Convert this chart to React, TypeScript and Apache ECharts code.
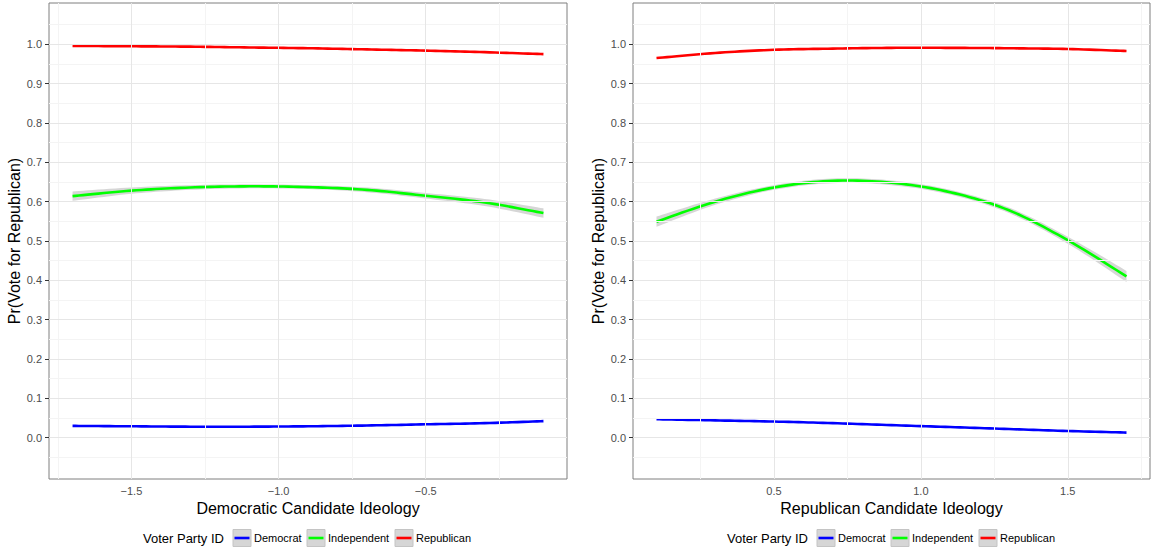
import React, { useEffect, useRef } from "react";
import * as echarts from "echarts";

// ---------- data ----------
const leftX = [-1.7, -1.5, -1.3, -1.1, -0.9, -0.7, -0.5, -0.3, -0.1];
const leftDem = [0.03, 0.029, 0.028, 0.028, 0.029, 0.031, 0.034, 0.037, 0.042];
const leftInd = [0.614, 0.628, 0.636, 0.639, 0.637, 0.63, 0.615, 0.598, 0.571];
const leftIndSe = [0.012, 0.008, 0.006, 0.005, 0.005, 0.006, 0.007, 0.009, 0.012];
const leftRep = [0.996, 0.995, 0.994, 0.992, 0.99, 0.987, 0.984, 0.98, 0.975];

const rightX = [0.1, 0.3, 0.5, 0.7, 0.9, 1.1, 1.3, 1.5, 1.7];
const rightDem = [0.047, 0.044, 0.041, 0.037, 0.032, 0.027, 0.022, 0.017, 0.013];
const rightInd = [0.549, 0.6, 0.636, 0.653, 0.648, 0.624, 0.578, 0.502, 0.41];
const rightIndSe = [0.013, 0.008, 0.006, 0.006, 0.006, 0.006, 0.007, 0.009, 0.014];
const rightRep = [0.965, 0.978, 0.986, 0.989, 0.991, 0.991, 0.99, 0.988, 0.983];

const yTicks = [0, 0.1, 0.2, 0.3, 0.4, 0.5, 0.6, 0.7, 0.8, 0.9, 1.0];
const yMinor = [-0.05, 0.05, 0.15, 0.25, 0.35, 0.45, 0.55, 0.65, 0.75, 0.85, 0.95, 1.05];
const leftXTicks = [-1.5, -1.0, -0.5];
const leftXMinor = [-1.75, -1.25, -0.75, -0.25];
const rightXTicks = [0.5, 1.0, 1.5];
const rightXMinor = [0.25, 0.75, 1.25, 1.75];

const groups = ["Democrat", "Independent", "Republican"];
const groupColors = ["#0000ff", "#00ff00", "#ff0000"];
const legendTitle = "Voter Party ID";
const yTitle = "Pr(Vote for Republican)";
const xTitles = ["Democratic Candidate Ideology", "Republican Candidate Ideology"];

const FONT = "'Liberation Sans', Arial, Helvetica, sans-serif";

function fmt(v: number) {
  return v.toFixed(1).replace("-", "\u2212");
}

// Catmull-Rom densification of pixel points (drawing only)
function spline(pts: number[][], steps = 12) {
  const out: number[][] = [];
  const n = pts.length;
  for (let i = 0; i < n - 1; i++) {
    const p0 = pts[Math.max(0, i - 1)];
    const p1 = pts[i];
    const p2 = pts[i + 1];
    const p3 = pts[Math.min(n - 1, i + 2)];
    for (let s = 0; s < steps; s++) {
      const t = s / steps;
      const t2 = t * t;
      const t3 = t2 * t;
      const f = (a: number, b: number, c: number, d: number) =>
        0.5 * (2 * b + (-a + c) * t + (2 * a - 5 * b + 4 * c - d) * t2 + (-a + 3 * b - 3 * c + d) * t3);
      out.push([f(p0[0], p1[0], p2[0], p3[0]), f(p0[1], p1[1], p2[1], p3[1])]);
    }
  }
  out.push(pts[n - 1]);
  return out;
}

function panelSeries(
  g: number,
  xs: number[],
  dem: number[],
  ind: number[],
  se: number[],
  rep: number[],
  xMajor: number[],
  xMinor: number[]
) {
  const minorStyle = { color: "#f4f4f4", width: 1, type: "solid" };
  const majorStyle = { color: "#e6e6e6", width: 1, type: "solid" };
  const mark = [
    ...yMinor.map((v) => ({ yAxis: v, lineStyle: minorStyle })),
    ...xMinor.map((v) => ({ xAxis: v, lineStyle: minorStyle })),
    ...yTicks.map((v) => ({ yAxis: v, lineStyle: majorStyle })),
    ...xMajor.map((v) => ({ xAxis: v, lineStyle: majorStyle })),
  ];
  const line = (vals: number[], color: string, name: string) => {
    const rows = xs.map((x, i) => [x, vals[i]]);
    return {
      type: "custom",
      name,
      xAxisIndex: g,
      yAxisIndex: g,
      z: 4,
      silent: true,
      data: rows,
      encode: { x: 0, y: 1 },
      renderItem: (params: any, api: any) => {
        if (params.dataIndex !== 0) return null;
        const pts = spline(rows.map((r) => api.coord([r[0], r[1]])));
        return {
          type: "polyline",
          shape: { points: pts },
          style: { stroke: color, lineWidth: 2.6, fill: "none", lineJoin: "round" },
        };
      },
    };
  };
  const bandRows = xs.map((x, i) => [x, ind[i] - se[i], ind[i] + se[i]]);
  return [
    {
      type: "line",
      xAxisIndex: g,
      yAxisIndex: g,
      symbol: "none",
      silent: true,
      z: 1,
      data: [],
      markLine: { silent: true, symbol: ["none", "none"], label: { show: false }, data: mark, animation: false },
    },
    line(dem, groupColors[0], groups[0]),
    {
      type: "custom",
      xAxisIndex: g,
      yAxisIndex: g,
      z: 3,
      silent: true,
      data: bandRows,
      encode: { x: 0, y: [1, 2] },
      renderItem: (params: any, api: any) => {
        if (params.dataIndex !== 0) return null;
        const upper = spline(bandRows.map((r) => api.coord([r[0], r[2]])));
        const lower = spline(bandRows.map((r) => api.coord([r[0], r[1]]))).reverse();
        return {
          type: "polygon",
          shape: { points: [...upper, ...lower] },
          style: { fill: "rgba(153,153,153,0.4)" },
        };
      },
    },
    line(ind, groupColors[1], groups[1]),
    line(rep, groupColors[2], groups[2]),
  ];
}

function legendGraphic(cx: number) {
  const children: any[] = [
    {
      type: "text",
      x: cx - 165,
      y: 538,
      style: { text: legendTitle, font: `13px ${FONT}`, fill: "#000", verticalAlign: "middle", align: "left" },
    },
  ];
  const boxX = [cx - 75, cx - 1, cx + 87];
  groups.forEach((name, i) => {
    const bx = boxX[i];
    children.push({
      type: "rect",
      shape: { x: bx, y: 529.5, width: 18, height: 17 },
      style: { fill: "#d6d6d6", stroke: "#c4c4c4", lineWidth: 1 },
    });
    children.push({
      type: "line",
      shape: { x1: bx + 1.5, y1: 538, x2: bx + 16.5, y2: 538 },
      style: { stroke: groupColors[i], lineWidth: 2.6 },
    });
    children.push({
      type: "text",
      x: bx + 21,
      y: 538,
      style: { text: name, font: `11px ${FONT}`, fill: "#000", verticalAlign: "middle", align: "left" },
    });
  });
  return { type: "group", children };
}

function xAxisCfg(g: number, min: number, max: number, ticks: number[]) {
  return {
    type: "value",
    gridIndex: g,
    min,
    max,
    name: xTitles[g],
    nameLocation: "middle",
    nameGap: 21,
    nameTextStyle: { fontSize: 16, color: "#000", fontFamily: FONT },
    axisLine: { show: false },
    splitLine: { show: false },
    axisTick: { show: true, length: 4, customValues: ticks, lineStyle: { color: "#333", width: 1 } },
    axisLabel: {
      customValues: ticks,
      formatter: fmt,
      fontSize: 11,
      color: "#4d4d4d",
      fontFamily: FONT,
      margin: 6,
    },
  };
}

function yAxisCfg(g: number) {
  return {
    type: "value",
    gridIndex: g,
    min: -0.105,
    max: 1.105,
    name: yTitle,
    nameLocation: "middle",
    nameGap: 24,
    nameTextStyle: { fontSize: 16, color: "#000", fontFamily: FONT },
    axisLine: { show: false },
    splitLine: { show: false },
    axisTick: { show: true, length: 4, customValues: yTicks, lineStyle: { color: "#333", width: 1 } },
    axisLabel: {
      customValues: yTicks,
      formatter: (v: number) => v.toFixed(1),
      fontSize: 11,
      color: "#4d4d4d",
      fontFamily: FONT,
      margin: 7,
    },
  };
}

export default function App() {
  const ref = useRef<HTMLDivElement>(null);
  useEffect(() => {
    document.body.style.margin = "0";
    if (!ref.current) return;
    const chart = echarts.init(ref.current, null, { renderer: "svg" });
    const gridBase = { top: 3, height: 476, show: true, borderColor: "#7f7f7f", borderWidth: 1, backgroundColor: "#fff", containLabel: false, outerBoundsMode: "none" };
    chart.setOption({
      animation: false,
      backgroundColor: "#ffffff",
      textStyle: { fontFamily: FONT },
      grid: [
        { ...gridBase, left: 49, width: 518 },
        { ...gridBase, left: 633, width: 517 },
      ],
      xAxis: [xAxisCfg(0, -1.78, -0.02, leftXTicks), xAxisCfg(1, 0.02, 1.78, rightXTicks)],
      yAxis: [yAxisCfg(0), yAxisCfg(1)],
      series: [
        ...panelSeries(0, leftX, leftDem, leftInd, leftIndSe, leftRep, leftXTicks, leftXMinor),
        ...panelSeries(1, rightX, rightDem, rightInd, rightIndSe, rightRep, rightXTicks, rightXMinor),
      ],
      graphic: [legendGraphic(308), legendGraphic(892)],
    });
    return () => chart.dispose();
  }, []);
  return <div ref={ref} style={{ width: 1151, height: 550 }} />;
}
